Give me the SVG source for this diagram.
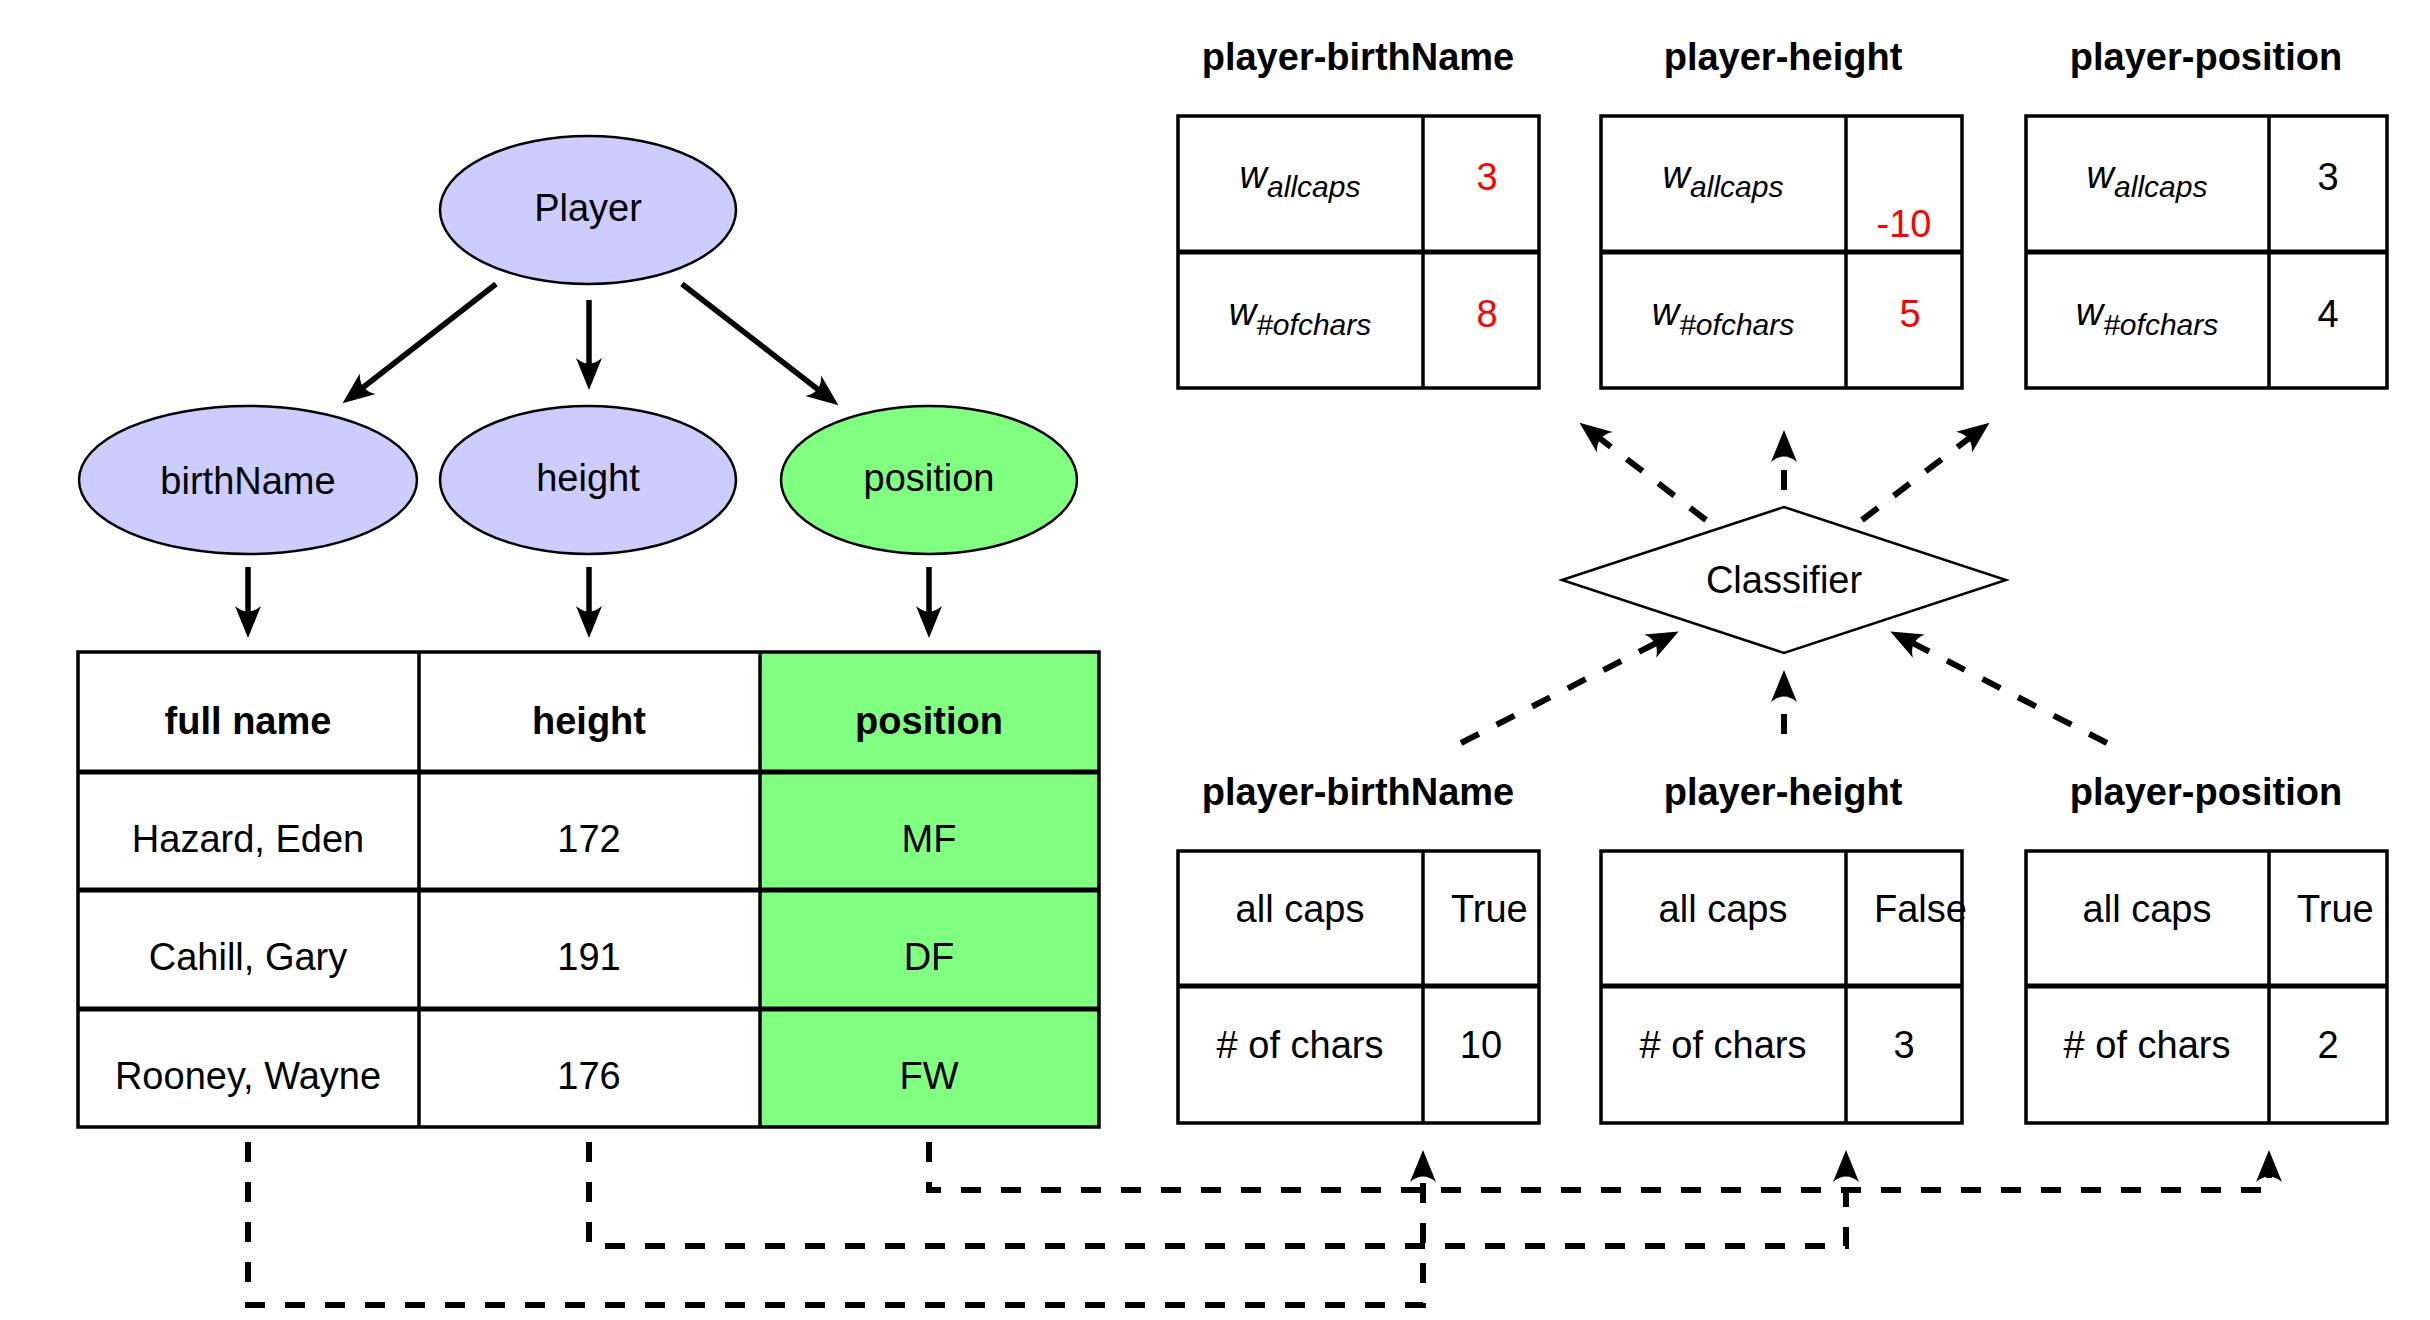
<svg xmlns="http://www.w3.org/2000/svg" width="2430" height="1320" viewBox="0 0 2430 1320">
<style>
text{font-family:"Liberation Sans",Arial,sans-serif;font-size:38px;fill:#000}
.b{font-weight:bold}
.it{font-style:italic}
.red{fill:#ff0000}
.node{stroke:#000;stroke-width:2.5}
.blue{fill:#ccccff}
.green{fill:#80ff80}
.cell{fill:none;stroke:#000;stroke-width:3.5}
.solid{fill:none;stroke:#000;stroke-width:5.5;marker-end:url(#ah)}
.dash{fill:none;stroke:#000;stroke-width:6;stroke-dasharray:20 20;marker-end:url(#ah)}
</style>
<defs>
<marker id="ah" viewBox="0 0 32 26" refX="20" refY="13" markerWidth="32" markerHeight="26" markerUnits="userSpaceOnUse" orient="auto" overflow="visible">
<path d="M32,13 L0,0 Q11,13 0,26 Z" fill="#000"/>
</marker>
</defs>

<g id="connectors">
<line class="solid" x1="496" y1="284" x2="352" y2="396"/>
<line class="solid" x1="589" y1="300" x2="589" y2="378"/>
<line class="solid" x1="682" y1="284" x2="829" y2="398"/>
<line class="solid" x1="248" y1="567" x2="248" y2="626"/>
<line class="solid" x1="589" y1="567" x2="589" y2="626"/>
<line class="solid" x1="929" y1="567" x2="929" y2="626"/>
<line class="dash" x1="1706" y1="520" x2="1589" y2="430"/>
<line class="dash" x1="1784" y1="490" x2="1784" y2="442"/>
<line class="dash" x1="1862" y1="520" x2="1980" y2="430"/>
<line class="dash" x1="1461" y1="743" x2="1668" y2="637"/>
<line class="dash" x1="1784" y1="734" x2="1784" y2="682"/>
<line class="dash" x1="2107" y1="743" x2="1901" y2="637"/>
<polyline class="dash" points="248,1142 248,1305 1423,1305 1423,1162"/>
<polyline class="dash" points="589,1142 589,1246 1846,1246 1846,1162"/>
<polyline class="dash" points="929,1142 929,1190 2269,1190 2269,1162"/>
</g>

<g id="node-player"><ellipse class="node blue" cx="588" cy="210" rx="148" ry="74"/><text x="588" y="221" text-anchor="middle">Player</text></g>
<g id="node-birthName"><ellipse class="node blue" cx="248" cy="480" rx="169" ry="74"/><text x="248" y="494" text-anchor="middle">birthName</text></g>
<g id="node-height"><ellipse class="node blue" cx="588" cy="480" rx="148" ry="74"/><text x="588" y="491" text-anchor="middle">height</text></g>
<g id="node-position"><ellipse class="node green" cx="929" cy="480" rx="148" ry="74"/><text x="929" y="491" text-anchor="middle">position</text></g>

<g id="node-table">
<rect x="760" y="652" width="339" height="475" class="green"/>
<rect x="78" y="652" width="1021" height="475" class="cell"/>
<line class="cell" x1="419" y1="652" x2="419" y2="1127"/>
<line class="cell" x1="760" y1="652" x2="760" y2="1127"/>
<line class="cell" x1="78" y1="772" x2="1099" y2="772" style="stroke-width:5"/>
<line class="cell" x1="78" y1="890" x2="1099" y2="890" style="stroke-width:5"/>
<line class="cell" x1="78" y1="1009" x2="1099" y2="1009" style="stroke-width:5"/>
<text class="b" x="248" y="734" text-anchor="middle">full name</text>
<text class="b" x="589" y="734" text-anchor="middle">height</text>
<text class="b" x="929" y="734" text-anchor="middle">position</text>
<text x="248" y="852" text-anchor="middle">Hazard, Eden</text>
<text x="589" y="852" text-anchor="middle">172</text>
<text x="929" y="852" text-anchor="middle">MF</text>
<text x="248" y="970" text-anchor="middle">Cahill, Gary</text>
<text x="589" y="970" text-anchor="middle">191</text>
<text x="929" y="970" text-anchor="middle">DF</text>
<text x="248" y="1089" text-anchor="middle">Rooney, Wayne</text>
<text x="589" y="1089" text-anchor="middle">176</text>
<text x="929" y="1089" text-anchor="middle">FW</text>
</g>

<g id="node-classifier"><polygon class="node" fill="#fff" points="1562,580 1784,507 2006,580 1784,653"/><text x="1784" y="593" text-anchor="middle">Classifier</text></g>

<g id="node-weights-birthName">
<text class="b" x="1358" y="70" text-anchor="middle">player-birthName</text>
<rect class="cell" x="1178" y="116" width="361" height="272"/>
<line class="cell" x1="1423" y1="116" x2="1423" y2="388"/>
<line class="cell" x1="1178" y1="252" x2="1539" y2="252" style="stroke-width:5"/>
<text class="it" x="1300" y="188" text-anchor="middle">w<tspan dy="9" font-size="30">allcaps</tspan></text>
<text class="it" x="1300" y="325" text-anchor="middle">w<tspan dy="10" font-size="30">#ofchars</tspan></text>
<text class="red" x="1487" y="190" text-anchor="middle">3</text>
<text class="red" x="1487" y="327" text-anchor="middle">8</text>
</g>
<g id="node-weights-height">
<text class="b" x="1783" y="70" text-anchor="middle">player-height</text>
<rect class="cell" x="1601" y="116" width="361" height="272"/>
<line class="cell" x1="1846" y1="116" x2="1846" y2="388"/>
<line class="cell" x1="1601" y1="252" x2="1962" y2="252" style="stroke-width:5"/>
<text class="it" x="1723" y="188" text-anchor="middle">w<tspan dy="9" font-size="30">allcaps</tspan></text>
<text class="it" x="1723" y="325" text-anchor="middle">w<tspan dy="10" font-size="30">#ofchars</tspan></text>
<text class="red" x="1904" y="237" text-anchor="middle">-10</text>
<text class="red" x="1910" y="327" text-anchor="middle">5</text>
</g>
<g id="node-weights-position">
<text class="b" x="2206" y="70" text-anchor="middle">player-position</text>
<rect class="cell" x="2026" y="116" width="361" height="272"/>
<line class="cell" x1="2269" y1="116" x2="2269" y2="388"/>
<line class="cell" x1="2026" y1="252" x2="2387" y2="252" style="stroke-width:5"/>
<text class="it" x="2147" y="188" text-anchor="middle">w<tspan dy="9" font-size="30">allcaps</tspan></text>
<text class="it" x="2147" y="325" text-anchor="middle">w<tspan dy="10" font-size="30">#ofchars</tspan></text>
<text x="2328" y="190" text-anchor="middle">3</text>
<text x="2328" y="327" text-anchor="middle">4</text>
</g>

<g id="node-features-birthName">
<text class="b" x="1358" y="805" text-anchor="middle">player-birthName</text>
<rect class="cell" x="1178" y="851" width="361" height="272"/>
<line class="cell" x1="1423" y1="851" x2="1423" y2="1123"/>
<line class="cell" x1="1178" y1="986" x2="1539" y2="986" style="stroke-width:5"/>
<text x="1300" y="922" text-anchor="middle">all caps</text>
<text x="1300" y="1058" text-anchor="middle"># of chars</text>
<text x="1451" y="922">True</text>
<text x="1481" y="1058" text-anchor="middle">10</text>
</g>
<g id="node-features-height">
<text class="b" x="1783" y="805" text-anchor="middle">player-height</text>
<rect class="cell" x="1601" y="851" width="361" height="272"/>
<line class="cell" x1="1846" y1="851" x2="1846" y2="1123"/>
<line class="cell" x1="1601" y1="986" x2="1962" y2="986" style="stroke-width:5"/>
<text x="1723" y="922" text-anchor="middle">all caps</text>
<text x="1723" y="1058" text-anchor="middle"># of chars</text>
<text x="1874" y="922">False</text>
<text x="1904" y="1058" text-anchor="middle">3</text>
</g>
<g id="node-features-position">
<text class="b" x="2206" y="805" text-anchor="middle">player-position</text>
<rect class="cell" x="2026" y="851" width="361" height="272"/>
<line class="cell" x1="2269" y1="851" x2="2269" y2="1123"/>
<line class="cell" x1="2026" y1="986" x2="2387" y2="986" style="stroke-width:5"/>
<text x="2147" y="922" text-anchor="middle">all caps</text>
<text x="2147" y="1058" text-anchor="middle"># of chars</text>
<text x="2297" y="922">True</text>
<text x="2328" y="1058" text-anchor="middle">2</text>
</g>
</svg>
